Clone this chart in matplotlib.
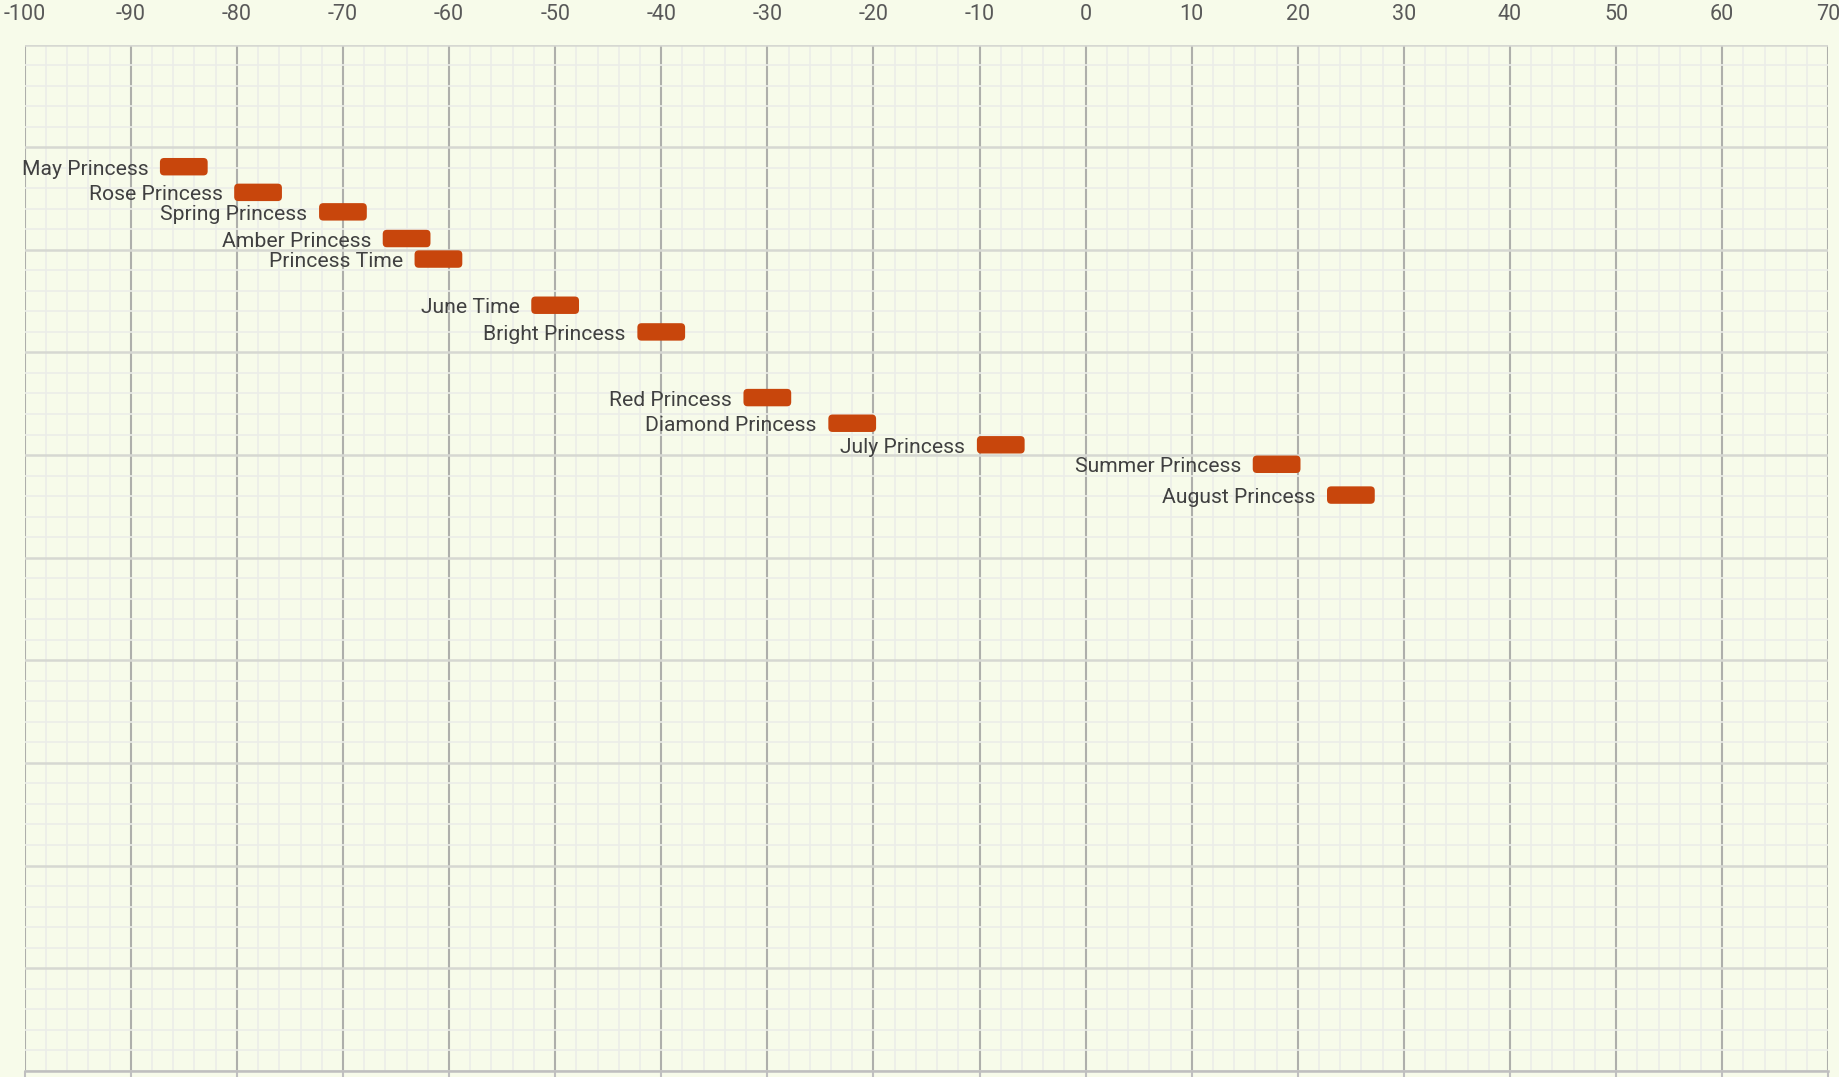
import matplotlib
matplotlib.use("Agg")
import matplotlib.pyplot as plt
from matplotlib.patches import FancyBboxPatch
from matplotlib.ticker import MultipleLocator

# ships and their position on the chart
ships = ["May Princess", "Rose Princess", "Spring Princess", "Amber Princess",
         "Princess Time", "June Time", "Bright Princess", "Red Princess",
         "Diamond Princess", "July Princess", "Summer Princess", "August Princess"]
x_center = [-85, -78, -70, -64, -61, -50, -40, -30, -22, -8, 18, 25]
y_level = [8.81, 8.56, 8.37, 8.11, 7.91, 7.46, 7.20, 6.56, 6.31, 6.10, 5.91, 5.61]

x_ticks = list(range(-100, 71, 10))

BG = "#F7FBEA"
BAR = "#C8460C"

plt.rcParams["font.family"] = ["Roboto", "DejaVu Sans"]

fig = plt.figure(figsize=(18.39, 10.77), dpi=100, facecolor=BG)
ax = fig.add_axes([0.0134, 0.0058, 0.9808, 0.9528])
ax.set_facecolor(BG)

ax.set_xlim(-100, 70)
ax.set_ylim(0, 10)
ax.xaxis.set_major_locator(MultipleLocator(10))
ax.xaxis.set_minor_locator(MultipleLocator(2))
ax.yaxis.set_major_locator(MultipleLocator(1))
ax.yaxis.set_minor_locator(MultipleLocator(0.2))
ax.set_xticks(x_ticks)
ax.set_xticklabels([str(t) for t in x_ticks])

ax.grid(which="minor", color="#EBEDE8", lw=1.2, zorder=0)
ax.grid(which="major", axis="y", color="#D6D8D2", lw=1.8, zorder=0.5)
ax.grid(which="major", axis="x", color="#AEAFAB", lw=1.5, zorder=0.6)
ax.set_axisbelow(True)

for s in ["left", "right", "top"]:
    ax.spines[s].set_visible(False)
ax.spines["bottom"].set_color("#BFBFBF")
ax.spines["bottom"].set_linewidth(1.8)

ax.tick_params(axis="x", which="major", top=False, bottom=True, labeltop=True,
               labelbottom=False, length=4, color="#BFBFBF", width=1.5,
               labelsize=15.5, labelcolor="#595959", pad=10)
ax.tick_params(axis="x", which="minor", top=False, bottom=False)
ax.tick_params(axis="y", which="both", left=False, labelleft=False)

# rounded bars: 4.5 units wide, ~17px tall
half_w = 2.25
bar_h = 0.17
aspect = (1803.8 / 170) / (1026.2 / 10)
for name, xc, yl in zip(ships, x_center, y_level):
    box = FancyBboxPatch((xc - half_w, yl - bar_h / 2), 2 * half_w, bar_h,
                         boxstyle="round,pad=0,rounding_size=0.4",
                         mutation_aspect=aspect, fc=BAR, ec="none", zorder=3)
    ax.add_patch(box)
    ax.text(xc - half_w - 1.1, yl - 0.025, name, ha="right", va="center",
            fontsize=15.2, color="#404040", zorder=4)

fig.savefig("out.png", dpi=100, facecolor=BG)
